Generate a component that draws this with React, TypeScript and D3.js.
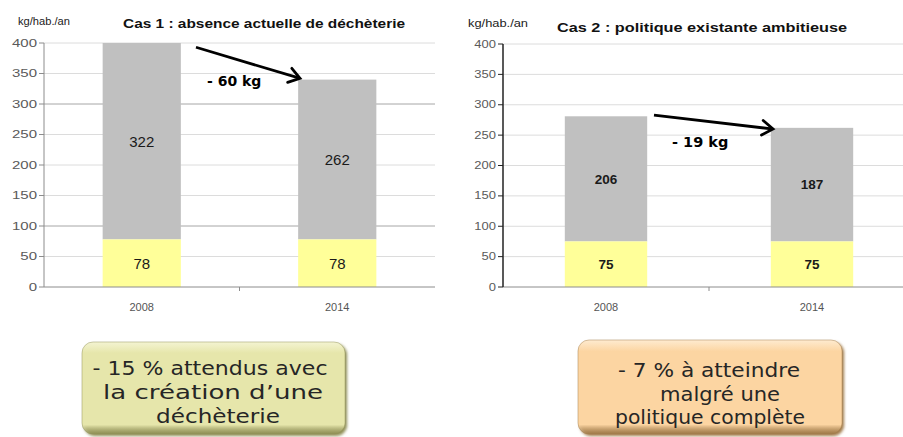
import * as d3 from "d3";

const years = ["2008", "2014"];
const yTicks = [0, 50, 100, 150, 200, 250, 300, 350, 400];

// Cas 1
const cas1Base = [78, 78];
const cas1Top = [322, 262];
// Cas 2
const cas2Base = [75, 75];
const cas2Top = [206, 187];

const W = 903;
const H = 437;
const FONT = "'Liberation Sans', Arial, sans-serif";
const WIDE = "'DejaVu Sans', Verdana, sans-serif";

type ChartProps = {
  left: number;
  right: number;
  top: number;
  bottom: number;
  base: number[];
  upper: number[];
  title: string;
  titleX: number;
  titleY: number;
  titleLen: number;
  unitX: number;
  unitY: number;
  unitLen: number;
  tickScale: number;
  axisColor: string;
  axisWidth: number;
  darkGrid: number[];
  valueFont: { size: number; weight: number };
  arrow: { x0: number; v0: number; x1: number; v1: number };
  diffLabel: string;
  diffX: number;
  diffV: number;
  diffSize: number;
};

const Chart = (p: ChartProps) => {
  const x = d3.scaleBand().domain(years).range([p.left, p.right]).padding(0);
  const y = d3.scaleLinear().domain([0, 400]).range([p.bottom, p.top]);
  const barW = x.bandwidth() * 0.4;
  const gridEnd = Math.min(p.right, W);

  // arrow geometry
  const ax0 = p.arrow.x0, ay0 = y(p.arrow.v0);
  const ax1 = p.arrow.x1, ay1 = y(p.arrow.v1);
  const ang = Math.atan2(ay1 - ay0, ax1 - ax0);
  const hl = 13, ha = 0.6;
  const h1 = [ax1 - hl * Math.cos(ang - ha), ay1 - hl * Math.sin(ang - ha)];
  const h2 = [ax1 - hl * Math.cos(ang + ha), ay1 - hl * Math.sin(ang + ha)];

  return (
    <g>
      {/* grid */}
      {yTicks.filter((t) => t > 0).map((t) => (
        <line key={t} x1={p.left} x2={gridEnd} y1={y(t)} y2={y(t)}
          stroke={p.darkGrid.includes(t) ? "#a6a6a6" : "#dcdcdc"} strokeWidth={1} />
      ))}
      {/* bars */}
      {years.map((yr, i) => {
        const cx = (x(yr) as number) + x.bandwidth() / 2;
        const b = p.base[i], u = p.upper[i];
        return (
          <g key={yr}>
            <rect x={cx - barW / 2} y={y(b + u)} width={barW} height={y(b) - y(b + u)} fill="#c0c0c0" />
            <rect x={cx - barW / 2} y={y(b)} width={barW} height={y(0) - y(b)} fill="#ffff99" />
            <text x={cx} y={(y(b + u) + y(b)) / 2} dy="0.36em" textAnchor="middle"
              fontSize={p.valueFont.size} fontWeight={p.valueFont.weight} fill="#1a1a1a" fontFamily={FONT}>{u}</text>
            <text x={cx} y={(y(b) + y(0)) / 2} dy="0.36em" textAnchor="middle"
              fontSize={p.valueFont.size} fontWeight={p.valueFont.weight} fill="#1a1a1a" fontFamily={FONT}>{b}</text>
            <text x={cx} y={p.bottom + 24} textAnchor="middle" fontSize={11} fill="#555" fontFamily={FONT}>{yr}</text>
          </g>
        );
      })}
      {/* axes */}
      <line x1={p.left} x2={gridEnd} y1={p.bottom} y2={p.bottom} stroke="#8c8c8c" strokeWidth={1} />
      <line x1={p.left + x.bandwidth()} x2={p.left + x.bandwidth()} y1={p.bottom} y2={p.bottom + 4} stroke="#8c8c8c" />
      <line x1={p.left} x2={p.left} y1={p.top} y2={p.bottom} stroke={p.axisColor} strokeWidth={p.axisWidth} />
      {yTicks.map((t) => (
        <g key={t}>
          <line x1={p.left - 5} x2={p.left} y1={y(t)} y2={y(t)} stroke={p.axisColor} />
          <text transform={`translate(${p.left - 7},${y(t)}) scale(${p.tickScale},1)`} dy="0.35em"
            textAnchor="end" fontSize={10} fill="#5a5a5a" fontFamily={FONT}>{t}</text>
        </g>
      ))}
      {/* titles */}
      <text x={p.titleX} y={p.titleY} fontSize={13} fontWeight={700} fill="#111" fontFamily={FONT}
        textLength={p.titleLen} lengthAdjust="spacingAndGlyphs">{p.title}</text>
      <text x={p.unitX} y={p.unitY} fontSize={11} fill="#222" fontFamily={FONT}
        textLength={p.unitLen} lengthAdjust="spacingAndGlyphs">kg/hab./an</text>
      {/* arrow */}
      <line x1={ax0} y1={ay0} x2={ax1 - 1.5 * Math.cos(ang)} y2={ay1 - 1.5 * Math.sin(ang)} stroke="#000" strokeWidth={2.8} />
      <polyline points={`${h1[0]},${h1[1]} ${ax1},${ay1} ${h2[0]},${h2[1]}`} fill="none" stroke="#000"
        strokeWidth={2.8} strokeLinejoin="miter" strokeLinecap="round" />
      <text x={p.diffX} y={y(p.diffV)} fontSize={p.diffSize} fontWeight={700} fill="#000"
        fontFamily={WIDE}>{p.diffLabel}</text>
    </g>
  );
};

type BoxProps = {
  x: number; y: number; w: number; h: number;
  fill: string; fillLight: string; shade: string; id: string;
  lines: string[]; cx: number[]; baselines: number[]; lens: number[];
};

const Callout = (b: BoxProps) => (
  <g>
    <defs>
      <linearGradient id={`g-${b.id}`} x1="0" y1="0" x2="0" y2="1">
        <stop offset="0" stopColor={b.fillLight} />
        <stop offset="0.12" stopColor={b.fill} />
        <stop offset="0.9" stopColor={b.fill} />
        <stop offset="1" stopColor={b.shade} stopOpacity={0.6} />
      </linearGradient>
      <filter id={`f-${b.id}`} x="-10%" y="-10%" width="120%" height="130%">
        <feGaussianBlur stdDeviation="1.4" />
      </filter>
    </defs>
    <rect x={b.x + 2} y={b.y + 2} width={b.w} height={b.h} rx={11} fill={b.shade} filter={`url(#f-${b.id})`} />
    <rect x={b.x} y={b.y} width={b.w} height={b.h} rx={11} fill={`url(#g-${b.id})`} stroke={b.shade} strokeOpacity={0.45} strokeWidth={1} />
    {b.lines.map((l, i) => (
      <text key={i} x={b.cx[i]} y={b.baselines[i]} textAnchor="middle" fontSize={19} fill="#262626"
        fontFamily={WIDE} textLength={b.lens[i]} lengthAdjust="spacingAndGlyphs">{l}</text>
    ))}
  </g>
);

export default function App() {
  return (
    <svg width={W} height={H} viewBox={`0 0 ${W} ${H}`}
      style={{ position: "absolute", left: 0, top: 0, display: "block", background: "#fff" }}>
      <rect width={W} height={H} fill="#fff" />
      <Chart left={44} right={435} top={43} bottom={287} base={cas1Base} upper={cas1Top}
        title="Cas 1 : absence actuelle de déchèterie" titleX={123} titleY={28} titleLen={282}
        unitX={18} unitY={25} unitLen={52} tickScale={1.5} axisColor="#8c8c8c" axisWidth={1}
        darkGrid={[100, 300]} valueFont={{ size: 15, weight: 400 }}
        arrow={{ x0: 196, v0: 393, x1: 300, v1: 342 }}
        diffLabel="- 60 kg" diffX={207} diffV={329} diffSize={14} />
      <Chart left={503} right={915} top={44} bottom={287} base={cas2Base} upper={cas2Top}
        title="Cas 2 : politique existante ambitieuse" titleX={557} titleY={32} titleLen={290}
        unitX={468} unitY={27} unitLen={60} tickScale={1.3} axisColor="#222" axisWidth={1.5}
        darkGrid={[]} valueFont={{ size: 13.5, weight: 700 }}
        arrow={{ x0: 654, v0: 283, x1: 773, v1: 260 }}
        diffLabel="- 19 kg" diffX={672} diffV={231} diffSize={14.5} />
      <Callout id="a" x={82} y={342} w={263} h={92} fill="#e6e6ab" fillLight="#f4f4d2" shade="#8f8f55"
        lines={["- 15 % attendus avec", "la création d’une", "déchèterie"]}
        cx={[210, 213, 218]} baselines={[375, 399, 423]} lens={[235, 220, 124]} />
      <Callout id="b" x={578} y={340} w={264} h={94} fill="#fcd5a2" fillLight="#feebd0" shade="#a07a48"
        lines={["- 7 % à atteindre", "malgré une", "politique complète"]}
        cx={[709, 720, 710]} baselines={[377, 401, 424]} lens={[182, 120, 190]} />
    </svg>
  );
}
